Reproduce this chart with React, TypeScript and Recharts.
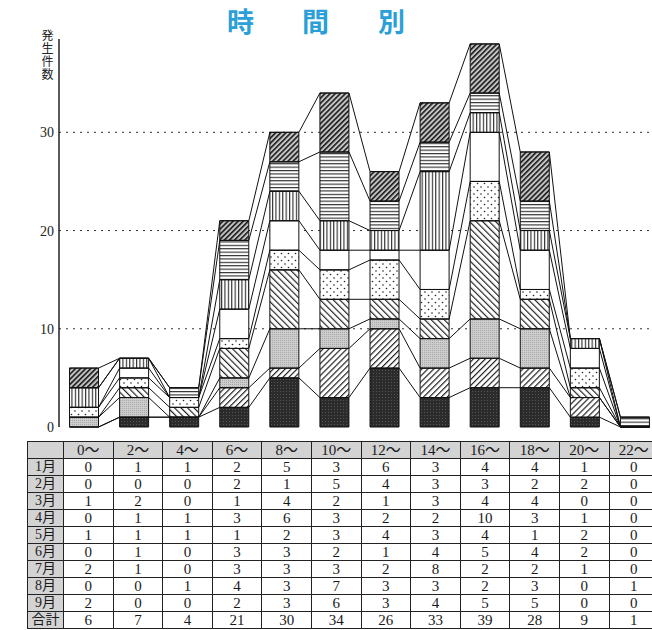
import React from 'react';
import { ComposedChart, Bar, Line, XAxis, YAxis, CartesianGrid } from 'recharts';

const hours = ['0～', '2～', '4～', '6～', '8～', '10～', '12～', '14～', '16～', '18～', '20～', '22～'];
const months = ['1月', '2月', '3月', '4月', '5月', '6月', '7月', '8月', '9月'];

const jan = [0, 1, 1, 2, 5, 3, 6, 3, 4, 4, 1, 0];
const feb = [0, 0, 0, 2, 1, 5, 4, 3, 3, 2, 2, 0];
const mar = [1, 2, 0, 1, 4, 2, 1, 3, 4, 4, 0, 0];
const apr = [0, 1, 1, 3, 6, 3, 2, 2, 10, 3, 1, 0];
const may = [1, 1, 1, 1, 2, 3, 4, 3, 4, 1, 2, 0];
const jun = [0, 1, 0, 3, 3, 2, 1, 4, 5, 4, 2, 0];
const jul = [2, 1, 0, 3, 3, 3, 2, 8, 2, 2, 1, 0];
const aug = [0, 0, 1, 4, 3, 7, 3, 3, 2, 3, 0, 1];
const sep = [2, 0, 0, 2, 3, 6, 3, 4, 5, 5, 0, 0];

const monthValues = [jan, feb, mar, apr, may, jun, jul, aug, sep];
const yTicks = [0, 10, 20, 30];
const gridValues = [10, 20, 30];

// half of the bar width in category units (barCategoryGap 21% -> bar = 58% of band)
const HALF = 0.29;

const chartData = hours.map((h, i) => {
  const row: Record<string, number | string> = { hour: h };
  monthValues.forEach((vals, k) => {
    row[`m${k}`] = vals[i];
  });
  return row;
});

// cumulative boundary lines connecting neighbouring bars
const boundaryLines = monthValues.map((_, k) =>
  hours.flatMap((_h, i) => {
    let cum = 0;
    for (let j = 0; j <= k; j++) cum += monthValues[j][i];
    return [
      { x: i - HALF, y: cum },
      { x: i + HALF, y: cum },
    ];
  })
);

const totals = hours.map((_, i) => monthValues.reduce((s, v) => s + v[i], 0));

const serif = "'Liberation Serif', 'DejaVu Serif', 'Noto Sans CJK JP', serif";
const gothic = "'Noto Sans CJK JP', 'Noto Sans', sans-serif";

const Patterns = () => (
  <defs>
    <pattern id="p0" width="3" height="3" patternUnits="userSpaceOnUse">
      <rect width="3" height="3" fill="#2b2b2b" />
      <rect x="1" y="1" width="1" height="1" fill="#555" />
    </pattern>
    <pattern id="p1" width="4.2" height="4.2" patternUnits="userSpaceOnUse" patternTransform="rotate(45)">
      <rect width="4.2" height="4.2" fill="#fff" />
      <line x1="0.6" y1="0" x2="0.6" y2="4.2" stroke="#111" strokeWidth="1.1" />
    </pattern>
    <pattern id="p2" width="2" height="2" patternUnits="userSpaceOnUse">
      <rect width="2" height="2" fill="#cdcdcd" />
      <rect x="0" y="0" width="1" height="1" fill="#a8a8a8" />
    </pattern>
    <pattern id="p3" width="4.6" height="4.6" patternUnits="userSpaceOnUse" patternTransform="rotate(-45)">
      <rect width="4.6" height="4.6" fill="#fff" />
      <line x1="0.6" y1="0" x2="0.6" y2="4.6" stroke="#111" strokeWidth="1.1" />
    </pattern>
    <pattern id="p4" width="7" height="7" patternUnits="userSpaceOnUse">
      <rect width="7" height="7" fill="#fff" />
      <circle cx="1.5" cy="1.5" r="0.8" fill="#222" />
      <circle cx="5" cy="5" r="0.8" fill="#222" />
    </pattern>
    <pattern id="p5" width="4" height="4" patternUnits="userSpaceOnUse">
      <rect width="4" height="4" fill="#fff" />
    </pattern>
    <pattern id="p6" width="3.4" height="3.4" patternUnits="userSpaceOnUse">
      <rect width="3.4" height="3.4" fill="#fff" />
      <line x1="0.6" y1="0" x2="0.6" y2="3.4" stroke="#111" strokeWidth="1" />
    </pattern>
    <pattern id="p7" width="3.4" height="3.4" patternUnits="userSpaceOnUse">
      <rect width="3.4" height="3.4" fill="#fff" />
      <line x1="0" y1="0.6" x2="3.4" y2="0.6" stroke="#111" strokeWidth="1" />
    </pattern>
    <pattern id="p8" width="3.6" height="3.6" patternUnits="userSpaceOnUse" patternTransform="rotate(45)">
      <rect width="3.6" height="3.6" fill="#c4c4c4" />
      <line x1="0.8" y1="0" x2="0.8" y2="3.6" stroke="#1a1a1a" strokeWidth="1.6" />
    </pattern>
  </defs>
);

const cellBase: React.CSSProperties = {
  border: '1px solid #222',
  height: 16,
  padding: 0,
  textAlign: 'center',
  fontFamily: serif,
  fontSize: 15,
  lineHeight: '16px',
  color: '#1a1a1a',
};
const grayCell: React.CSSProperties = { ...cellBase, background: '#d3d3d3' };

export default function App() {
  return (
    <div
      style={{
        position: 'absolute',
        left: 0,
        top: 0,
        width: 652,
        height: 630,
        overflow: 'hidden',
        background: '#fff',
      }}
    >
      {['時', '間', '別'].map((c, i) => (
        <div
          key={c}
          style={{
            position: 'absolute',
            left: [227, 302, 378][i],
            top: 5,
            fontSize: 27,
            lineHeight: '32px',
            fontWeight: 700,
            color: '#2a9fd8',
            fontFamily: gothic,
          }}
        >
          {c}
        </div>
      ))}
      <div
        style={{
          position: 'absolute',
          left: 40,
          top: 29,
          fontSize: 12,
          lineHeight: '14px',
          letterSpacing: 1,
          writingMode: 'vertical-rl',
          fontFamily: gothic,
          color: '#222',
        }}
      >
        発生件数
      </div>
      <div style={{ position: 'absolute', left: 0, top: 0 }}>
        <ComposedChart
          width={660}
          height={440}
          data={chartData}
          margin={{ top: 39, right: 0, bottom: 13, left: 0 }}
          barCategoryGap="21%"
        >
          <Patterns />
          <CartesianGrid
            vertical={false}
            horizontalValues={gridValues}
            stroke="#333"
            strokeDasharray="2 5"
          />
          <XAxis
            dataKey="hour"
            height={0}
            tick={false}
            tickLine={false}
            axisLine={{ stroke: '#222', strokeWidth: 1.5 }}
          />
          <XAxis xAxisId="num" type="number" dataKey="x" domain={[-0.5, 11.5]} hide allowDataOverflow />
          <YAxis
            width={59}
            domain={[0, 39.5]}
            ticks={yTicks}
            interval={0}
            tickLine={false}
            tickSize={2}
            tickMargin={3}
            axisLine={{ stroke: '#222', strokeWidth: 1.5 }}
            tick={{ fill: '#222', fontSize: 14, fontFamily: serif }}
          />
          {months.map((m, k) => (
            <Bar
              key={m}
              dataKey={`m${k}`}
              name={m}
              stackId="a"
              fill={`url(#p${k})`}
              stroke="#111"
              strokeWidth={1}
              isAnimationActive={false}
            />
          ))}
          {boundaryLines.map((pts, k) => (
            <Line
              key={`line${k}`}
              xAxisId="num"
              data={pts}
              dataKey="y"
              type="linear"
              stroke="#111"
              strokeWidth={1}
              dot={false}
              activeDot={false}
              isAnimationActive={false}
            />
          ))}
        </ComposedChart>
      </div>
      <table
        style={{
          position: 'absolute',
          left: 27,
          top: 441,
          borderCollapse: 'collapse',
          tableLayout: 'fixed',
          width: 36 + 12 * 49.6,
          border: '1.5px solid #111',
        }}
      >
        <colgroup>
          <col style={{ width: 36 }} />
          {hours.map((h) => (
            <col key={h} style={{ width: 49.6 }} />
          ))}
        </colgroup>
        <tbody>
          <tr>
            <td style={grayCell}></td>
            {hours.map((h) => (
              <td key={h} style={grayCell}>
                {h}
              </td>
            ))}
          </tr>
          {months.map((m, k) => (
            <tr key={m}>
              <td style={{ ...grayCell, fontSize: 14 }}>{m}</td>
              {monthValues[k].map((v, i) => (
                <td key={i} style={cellBase}>
                  {v}
                </td>
              ))}
            </tr>
          ))}
          <tr>
            <td style={{ ...grayCell, fontSize: 14 }}>合計</td>
            {totals.map((v, i) => (
              <td key={i} style={cellBase}>
                {v}
              </td>
            ))}
          </tr>
        </tbody>
      </table>
    </div>
  );
}
